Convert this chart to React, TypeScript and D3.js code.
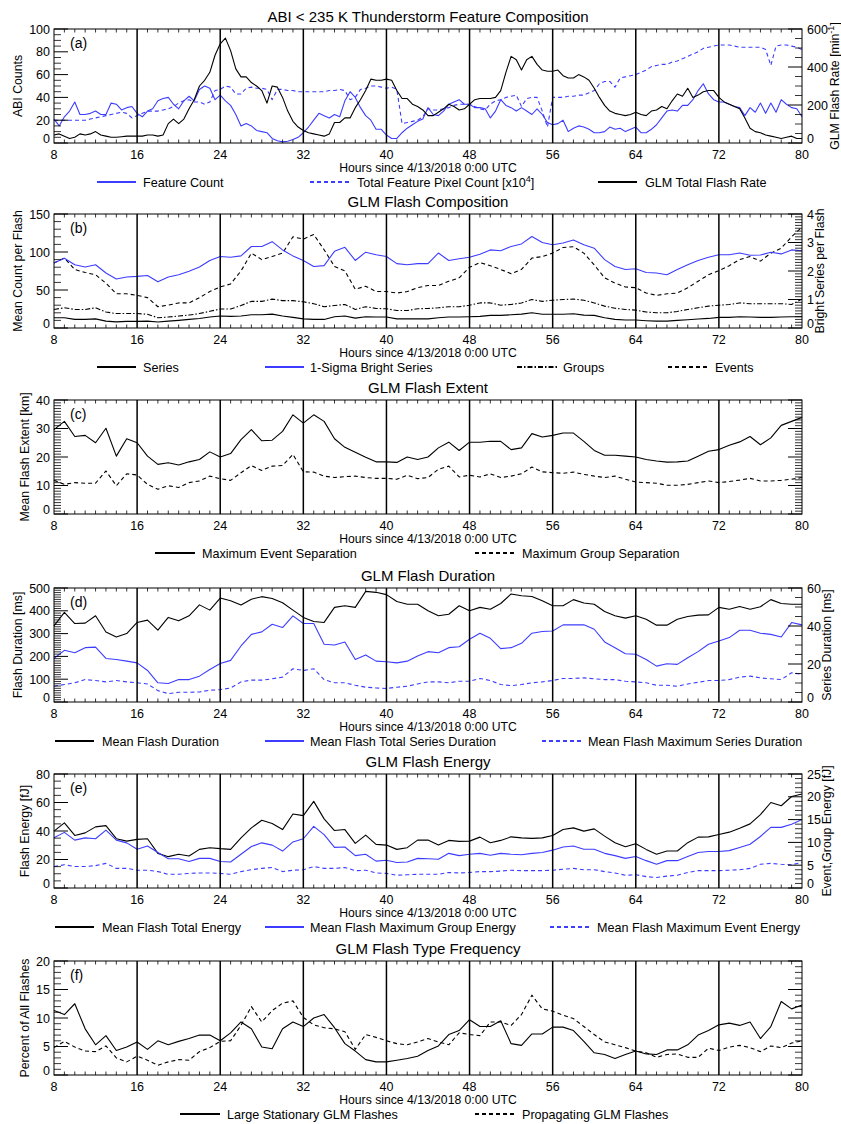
import React from "react";
import * as d3 from "d3";

// ---------------- x values ----------------
const hoursHalf = d3.range(8, 80.001, 0.5);
const hours = d3.range(8, 81, 1);
const xTicks = [8, 16, 24, 32, 40, 48, 56, 64, 72, 80];
const xGridLines = [16, 24, 32, 40, 48, 56, 64, 72];

// ---------------- panel (a) (half-hourly) ----------------
const featureCount = [
  21, 15, 23, 28, 36, 25, 25, 26, 28, 25, 25, 35, 34, 29, 31, 32, 26, 23, 28, 30, 37, 39, 40, 34, 30, 37, 41, 37, 47, 50,
  48, 38, 42, 37, 33, 25, 15, 17, 15, 11, 10, 9, 4, 2, 1, 1.5, 3, 5, 9, 14, 20, 26, 24, 22, 25, 23, 37, 45, 40, 31,
  24, 20, 12, 12, 7, 4, 4, 9, 13, 16, 19, 21, 31,
  25, 24, 28, 34, 36, 38, 34, 34, 31, 31, 30, 22, 28, 38, 33, 31, 28, 31, 28, 25, 30, 25, 18, 16, 17, 20, 10, 13, 15, 14,
  12, 9, 9, 10, 14, 12, 13, 10, 12, 14, 9, 9, 12, 16, 22, 28, 29, 28, 33, 33, 38, 46, 52, 43, 38, 36, 36, 34, 32, 31,
  24, 31, 27, 35, 26, 35, 27, 38, 34, 31, 30, 23,
];
const totalPixelCount = [
  20, 20, 20, 20, 20, 20, 20, 21, 22, 23, 24, 25, 26, 27, 26, 22, 24, 26, 28, 28, 28, 29, 30, 32, 35, 37, 38, 36, 36, 34,
  36, 46, 47, 50, 49, 43, 43, 48, 49, 48, 48, 47, 38, 47, 47, 46, 46, 45, 45, 45, 45, 45, 45, 46, 46, 47, 46, 38, 40, 47,
  48, 50, 50, 49, 48, 49, 47, 17, 18, 19, 20, 23, 30,
  29, 29, 30, 31, 33, 34, 34, 34, 32, 30, 29, 34, 37, 38, 40, 41, 42, 32, 39, 40, 40, 28, 14, 40, 40, 40, 41, 41, 42, 42,
  44, 46, 52, 54, 54, 49, 57, 58, 59, 60, 62, 64, 67, 68, 69, 69, 71, 72, 74, 76, 78, 80, 83, 84, 85, 86, 86, 86, 85, 84,
  84, 84, 84, 84, 82, 68, 85, 86, 86, 85, 84, 82,
];
const glmFlashRate = [
  42, 48, 36, 24, 30, 48, 42, 48, 60, 42, 36, 30, 30, 33, 36, 36, 36, 36, 42, 42, 36, 42, 102, 126, 102, 126, 180, 228, 300, 330,
  372, 462, 522, 552, 486, 390, 348, 348, 318, 300, 276, 210, 300, 294, 240, 168, 114, 84, 66, 54, 48, 42, 36, 48, 108, 108, 132, 132, 186, 228,
  276, 336, 330, 330, 336, 330, 276, 234, 234, 204, 192, 174, 144,
  144, 162, 180, 204, 192, 174, 180, 204, 228, 234, 234, 234, 240, 276, 372, 456, 438, 384, 438, 456, 414, 384, 378, 378, 384, 354, 342, 342, 360, 348,
  330, 288, 240, 198, 168, 156, 150, 144, 150, 162, 150, 144, 168, 174, 192, 180, 222, 258, 246, 288, 240, 252, 270, 276, 276, 240, 216, 204, 192, 180,
  132, 78, 60, 54, 42, 36, 30, 24, 30, 36, 24, 24,
];

// ---------------- panel (b) ----------------
const seriesCount = [
  13.5, 13.5, 11.3, 11.3, 12, 9, 8, 8.7, 8.7, 9, 7.8, 9, 10, 11.3, 12.6, 14.4, 15.7, 15.3, 15.7, 17.4, 17.4, 18.3, 15.7, 14, 12, 11.3, 11.3, 14.8, 15.7, 13,
  14.8, 14.4, 14.4, 12, 12, 12, 12,
  13.5, 14.4, 14.4, 14.8, 15.3, 16.6, 16.6, 17.4, 18.3, 20, 18, 18, 18, 18.8, 17, 16.6, 13.5, 11.3, 10.5, 10.5, 9.6, 9, 9, 10,
  10.9, 11.8, 12.6, 14, 14, 14.8, 14.4, 14, 14, 14.4, 14.8, 14.8,
];
const groupsCount = [
  24.4, 26.6, 24.4, 24.4, 26.6, 21, 19, 19, 19, 18, 13.5, 14.4, 15.7, 17, 19, 22, 25, 25, 29.6, 35, 35, 38, 36, 36, 34.5, 32, 28, 29.6, 31, 24.4,
  28, 25.7, 25.3, 23, 23, 25.3, 25.7,
  26.6, 28, 28, 30, 33, 33, 30, 31, 33, 37.5, 35, 36.6, 37.5, 38, 36.6, 33, 28.8, 26, 24.4, 23.5, 21, 20, 20, 21.8,
  24.4, 26.6, 28.8, 30, 31, 33, 32, 32, 32, 32, 31, 38,
];
const eventsCount = [
  85.5, 92, 77, 73, 70, 59, 45, 45, 43, 40, 28, 30, 33, 33, 40, 48, 54, 58, 75, 98.5, 90, 94, 98.5, 120, 117, 123, 103, 81, 75, 51,
  55, 48, 48, 46, 48, 53, 56,
  56, 61.5, 66, 80, 86, 82, 77, 71.5, 77, 92, 94, 98.5, 106, 107, 98.5, 83, 66, 59, 54, 53, 46, 43, 45, 46,
  53, 61.5, 70, 75.5, 82, 90, 94, 88, 98.5, 105, 120, 133,
];
const brightSeries = [
  2.28, 2.45, 2.22, 2.14, 2.22, 1.93, 1.72, 1.79, 1.81, 1.84, 1.62, 1.79, 1.87, 1.99, 2.14, 2.37, 2.51, 2.48, 2.53, 2.86, 2.86, 3.03, 2.74, 2.53, 2.37, 2.16, 2.19, 2.69, 2.83, 2.37,
  2.66, 2.57, 2.51, 2.26, 2.22, 2.26, 2.26,
  2.63, 2.37, 2.43, 2.48, 2.59, 2.74, 2.71, 2.86, 2.95, 3.21, 3.0, 2.92, 2.98, 3.09, 2.92, 2.8, 2.4, 2.16, 2.05, 2.08, 1.95, 1.93, 1.87, 2.05,
  2.22, 2.37, 2.48, 2.57, 2.57, 2.63, 2.55, 2.56, 2.66, 2.6, 2.74, 2.71,
];

// ---------------- panel (c) ----------------
const maxEventSep = [
  29.6, 32.5, 27.2, 27.6, 25, 30.1, 20.3, 26.4, 25, 20.3, 17.4, 18, 17.2, 18.3, 19.1, 21.8, 20, 21.2, 26.1, 29.6, 25.7, 25.9, 29, 34.8, 31.9, 34.8, 32.5, 26.4, 23.4, 21.7,
  19.9, 18.3, 18.3, 18.1, 20, 19.1, 20,
  23.2, 25.2, 22.3, 25.2, 25.2, 25.5, 25.5, 22.6, 23.2, 28.2, 27, 27.6, 28.4, 28.4, 25.5, 22.3, 20.6, 20.6, 20.3, 20, 19.1, 18.6, 18.2, 18.3,
  18.6, 20.3, 22, 22.6, 24.1, 25.3, 27.2, 24.3, 26.7, 31.1, 32.5, 33.9,
];
const maxGroupSep = [
  11.8, 10.4, 11, 10.8, 10.8, 15.1, 9.9, 14.1, 13.7, 10.4, 8.7, 9.9, 9.3, 11, 11.6, 13.3, 12.4, 11.8, 14.5, 17, 15.3, 16.8, 17, 20.9, 14.8, 14.7, 13.3, 12.8, 13.1, 13.3,
  12.8, 12.5, 12.5, 12.2, 13.6, 12.4, 12.8,
  15.7, 16.8, 13, 13.6, 13, 14.1, 12.8, 13.3, 14.1, 16.5, 14.8, 14.5, 14.3, 14.7, 13.9, 13.3, 12.8, 13.3, 12.2, 11.2, 11, 10.8, 10.1, 10.1,
  10.4, 11, 11.6, 11, 11.4, 11.9, 12.5, 11.6, 11.6, 11.8, 12.2, 12.8,
];

// ---------------- panel (d) ----------------
const meanFlashDuration = [
  334, 393, 344, 346, 378, 307, 285, 300, 349, 359, 315, 371, 356, 378, 426, 403, 456, 444, 425, 451, 462, 454, 435, 403, 371, 353, 349, 415, 422, 415,
  485, 481, 471, 441, 429, 429, 400,
  378, 385, 422, 400, 415, 407, 432, 474, 466, 463, 444, 422, 422, 449, 434, 429, 397, 378, 368, 378, 363, 337, 337, 363,
  375, 381, 382, 415, 407, 419, 407, 418, 449, 432, 429, 429,
];
const totalSeriesDuration = [
  22.9, 27.2, 25.9, 28.6, 28.9, 22.9, 22.4, 21.5, 20.6, 16.6, 10.1, 9.7, 11.8, 11.8, 13.6, 17.1, 20.3, 21.9, 29.5, 35.6, 36.9, 40.9, 39.2, 45.3, 41.3, 41.3, 30.4, 30, 31.6, 22.4,
  24.7, 21.5, 21.2, 20.6, 21.5, 24.2, 26.5,
  25.9, 28.6, 29.1, 33, 36.2, 33.5, 28.1, 28.6, 30.9, 36.2, 37.1, 37.4, 40.6, 40.6, 40.6, 38.3, 31.6, 28.6, 25.4, 25.1, 22.4, 18.9, 20.1, 19.8,
  23.3, 26.5, 30.4, 32.1, 33.9, 37.8, 37.8, 36.2, 35.6, 34.2, 41.8, 40.6,
];
const maxSeriesDuration = [
  8.3, 9.2, 10.1, 11.8, 11.3, 10.6, 11.3, 10.6, 10.1, 9.5, 6, 4.4, 5.1, 5.1, 5.3, 6.2, 6.5, 7.4, 10.6, 11.5, 11.5, 12.2, 13.1, 17.5, 16.6, 17.5, 11.8, 10.1, 10.1, 8.8,
  7.8, 7.4, 7.1, 7.8, 8.3, 9.5, 10.6,
  10.6, 10.1, 10.9, 10.9, 12.4, 11.3, 9.2, 8.6, 9.2, 10.1, 10.6, 11.3, 12.4, 12.4, 12.7, 12.2, 11.8, 11.8, 10.9, 10.6, 10.1, 8.8, 8.8, 8.3,
  9.5, 10.4, 11.3, 11.3, 11.8, 13.1, 13.6, 12.7, 12.2, 11.8, 15.4, 14.5,
];

// ---------------- panel (e) ----------------
const totalEnergy = [
  39.9, 45.7, 36.9, 38.7, 42.9, 43.8, 34.6, 32.9, 34.1, 34.6, 24.3, 22, 23.7, 22.5, 27.1, 28.3, 27.6, 27.1, 35.2, 42.2, 47.5, 45.2, 41, 51.9, 50.8, 60.8, 48.5, 40.3, 41, 31.3,
  37.1, 30.6, 30.1, 27.1, 28.3, 33.6, 33.6,
  30.1, 33.4, 32.7, 32.9, 35.7, 31.8, 33.4, 35.9, 35.2, 34.8, 35.2, 36.9, 41, 42.2, 39.9, 41.5, 36.4, 31.8, 29, 31.1, 27.1, 23.7, 26, 26,
  31.8, 35.7, 35.9, 37.6, 39.2, 42, 45, 51.5, 60, 57.7, 64.2, 66,
];
const maxGroupEnergy = [
  11.0, 12.2, 10.5, 11.0, 10.8, 12.7, 10.5, 9.9, 8.5, 9.2, 7.8, 6.4, 6.4, 5.8, 6.5, 6.5, 5.8, 5.7, 7.4, 9.1, 9.9, 9.4, 8.1, 10.1, 10.8, 13.5, 11.7, 8.9, 9.0, 7.1,
  7.4, 5.9, 6.1, 5.6, 5.7, 6.5, 6.4,
  6.3, 7.6, 7.1, 7.4, 7.6, 7.2, 7.6, 7.4, 7.3, 7.6, 7.8, 8.3, 9.0, 9.2, 8.5, 8.5, 7.6, 7.1, 6.5, 6.9, 6.0, 5.2, 6.0, 6.0,
  6.9, 7.8, 8.0, 8.0, 8.2, 8.9, 9.6, 11.3, 13.3, 13.3, 14.0, 15.0,
];
const maxEventEnergy = [
  4.7, 5.1, 4.7, 4.7, 4.9, 5.4, 4.3, 4.3, 3.9, 3.9, 3.6, 3.0, 3.0, 3.2, 3.3, 3.3, 3.2, 3.0, 3.6, 4.0, 4.3, 4.5, 3.6, 3.9, 4.0, 4.7, 4.3, 4.3, 4.5, 3.8,
  3.9, 3.3, 3.2, 2.8, 2.9, 3.0, 3.0,
  3.0, 3.4, 3.3, 3.4, 3.6, 3.6, 3.7, 3.9, 3.8, 3.8, 3.8, 3.9, 4.1, 4.3, 4.0, 4.0, 3.6, 3.3, 2.8, 2.9, 2.5, 2.3, 2.6, 2.8,
  3.4, 3.8, 3.8, 3.8, 3.9, 4.0, 4.3, 5.2, 5.4, 5.2, 5.1, 5.6,
];

// ---------------- panel (f) ----------------
const largeStationary = [
  11.3, 10.6, 12.5, 8.1, 5.3, 6.9, 4.3, 4.9, 5.8, 4.5, 6.0, 5.3, 5.9, 6.4, 7.0, 7.0, 6.0, 7.4, 9.3, 8.1, 4.9, 4.6, 8.1, 9.3, 8.5, 10.0, 10.6, 8.3, 5.5, 4.2,
  2.7, 2.3, 2.3, 2.6, 2.9, 3.3, 4.3,
  5.1, 7.1, 7.8, 9.7, 8.5, 8.5, 9.5, 5.5, 5.2, 7.2, 7.2, 8.4, 8.4, 7.8, 5.9, 3.9, 3.6, 2.9, 3.6, 4.2, 3.7, 3.6, 4.4, 4.4,
  5.3, 7.0, 7.8, 8.8, 9.1, 8.7, 9.3, 6.4, 8.5, 12.9, 11.6, 12.3,
];
const propagating = [
  4.8, 5.9, 4.9, 4.2, 4.1, 5.1, 3.0, 2.3, 3.3, 2.6, 1.7, 2.3, 2.7, 2.6, 4.1, 4.8, 5.9, 6.0, 8.7, 12.0, 9.3, 11.3, 12.6, 13.0, 10.1, 8.8, 8.3, 8.1, 7.6, 4.5,
  7.1, 6.6, 6.0, 5.5, 5.3, 5.8, 6.4,
  5.8, 5.3, 7.4, 7.1, 6.9, 9.3, 9.3, 8.7, 10.6, 14.0, 11.6, 11.2, 10.5, 9.9, 8.5, 7.1, 5.8, 5.3, 4.8, 4.2, 3.9, 3.1, 3.6, 3.7,
  3.1, 3.1, 4.7, 4.3, 4.9, 5.2, 4.8, 4.1, 5.1, 4.8, 5.6, 6.0,
];

// ---------------- styling / layout ----------------
const W = 841;
const H = 1124;
const X0 = 54;
const X1 = 802;
const PH = 114;
const TOPS = [29, 214, 400, 588, 774, 961];
const BLUE = "#3d3dff";
const FONT = "'Liberation Sans', Arial, Helvetica, sans-serif";
const DASH = "4 3";
const DASHDOT = "5 2 1.5 2";

type Series = { xs: number[]; ys: number[]; axis: "L" | "R"; color: string; dash?: string };
type Legend = { x1: number; x2: number; tx: number; label: React.ReactNode; color: string; dash?: string };
type Axis = { domain: [number, number]; major: number; minor: number; labels: boolean };
type PanelCfg = {
  tag: string;
  title: string;
  leftLabel: string;
  leftLabelX: number;
  rightLabel?: React.ReactNode;
  rightLabelX?: number;
  left: Axis;
  right: Axis;
  series: Series[];
  legend: Legend[];
};

const panels: PanelCfg[] = [
  {
    tag: "(a)",
    title: "ABI < 235 K Thunderstorm Feature Composition",
    leftLabel: "ABI Counts",
    leftLabelX: 22,
    rightLabel: (
      <>
        GLM Flash Rate [min<tspan dy={-5} fontSize={9}>-1</tspan>
        <tspan dy={5}>]</tspan>
      </>
    ),
    rightLabelX: 839,
    left: { domain: [0, 100], major: 20, minor: 5, labels: true },
    right: { domain: [0, 600], major: 200, minor: 50, labels: true },
    series: [
      { xs: hoursHalf, ys: totalPixelCount, axis: "L", color: BLUE, dash: DASH },
      { xs: hoursHalf, ys: featureCount, axis: "L", color: BLUE },
      { xs: hoursHalf, ys: glmFlashRate, axis: "R", color: "#000" },
    ],
    legend: [
      { x1: 97, x2: 136, tx: 143, label: "Feature Count", color: BLUE },
      {
        x1: 310,
        x2: 350,
        tx: 357,
        label: (
          <>
            Total Feature Pixel Count [x10<tspan dy={-5} fontSize={9}>4</tspan>
            <tspan dy={5}>]</tspan>
          </>
        ),
        color: BLUE,
        dash: DASH,
      },
      { x1: 598, x2: 637, tx: 645, label: "GLM Total Flash Rate", color: "#000" },
    ],
  },
  {
    tag: "(b)",
    title: "GLM Flash Composition",
    leftLabel: "Mean Count per Flash",
    leftLabelX: 22,
    rightLabel: "Bright Series per Flash",
    rightLabelX: 824,
    left: { domain: [0, 150], major: 50, minor: 10, labels: true },
    right: { domain: [0, 4], major: 1, minor: 0.1, labels: true },
    series: [
      { xs: hours, ys: seriesCount, axis: "L", color: "#000" },
      { xs: hours, ys: groupsCount, axis: "L", color: "#000", dash: DASHDOT },
      { xs: hours, ys: eventsCount, axis: "L", color: "#000", dash: DASH },
      { xs: hours, ys: brightSeries, axis: "R", color: BLUE },
    ],
    legend: [
      { x1: 97, x2: 136, tx: 143, label: "Series", color: "#000" },
      { x1: 265, x2: 304, tx: 310, label: "1-Sigma Bright Series", color: BLUE },
      { x1: 517, x2: 557, tx: 563, label: "Groups", color: "#000", dash: DASHDOT },
      { x1: 668, x2: 708, tx: 715, label: "Events", color: "#000", dash: DASH },
    ],
  },
  {
    tag: "(c)",
    title: "GLM Flash Extent",
    leftLabel: "Mean Flash Extent [km]",
    leftLabelX: 29,
    left: { domain: [0, 40], major: 10, minor: 1, labels: true },
    right: { domain: [0, 40], major: 10, minor: 1, labels: false },
    series: [
      { xs: hours, ys: maxEventSep, axis: "L", color: "#000" },
      { xs: hours, ys: maxGroupSep, axis: "L", color: "#000", dash: DASH },
    ],
    legend: [
      { x1: 155, x2: 195, tx: 202, label: "Maximum Event Separation", color: "#000" },
      { x1: 475, x2: 516, tx: 522, label: "Maximum Group Separation", color: "#000", dash: DASH },
    ],
  },
  {
    tag: "(d)",
    title: "GLM Flash Duration",
    leftLabel: "Flash Duration [ms]",
    leftLabelX: 22,
    rightLabel: "Series Duration [ms]",
    rightLabelX: 831,
    left: { domain: [0, 500], major: 100, minor: 10, labels: true },
    right: { domain: [0, 60], major: 20, minor: 5, labels: true },
    series: [
      { xs: hours, ys: meanFlashDuration, axis: "L", color: "#000" },
      { xs: hours, ys: totalSeriesDuration, axis: "R", color: BLUE },
      { xs: hours, ys: maxSeriesDuration, axis: "R", color: BLUE, dash: DASH },
    ],
    legend: [
      { x1: 55, x2: 94, tx: 102, label: "Mean Flash Duration", color: "#000" },
      { x1: 265, x2: 304, tx: 310, label: "Mean Flash Total Series Duration", color: BLUE },
      { x1: 542, x2: 582, tx: 588, label: "Mean Flash Maximum Series Duration", color: BLUE, dash: DASH },
    ],
  },
  {
    tag: "(e)",
    title: "GLM Flash Energy",
    leftLabel: "Flash Energy [fJ]",
    leftLabelX: 29,
    rightLabel: "Event,Group Energy [fJ]",
    rightLabelX: 831,
    left: { domain: [0, 80], major: 20, minor: 5, labels: true },
    right: { domain: [0, 25], major: 5, minor: 1, labels: true },
    series: [
      { xs: hours, ys: totalEnergy, axis: "L", color: "#000" },
      { xs: hours, ys: maxGroupEnergy, axis: "R", color: BLUE },
      { xs: hours, ys: maxEventEnergy, axis: "R", color: BLUE, dash: DASH },
    ],
    legend: [
      { x1: 55, x2: 94, tx: 102, label: "Mean Flash Total Energy", color: "#000" },
      { x1: 265, x2: 304, tx: 310, label: "Mean Flash Maximum Group Energy", color: BLUE },
      { x1: 550, x2: 590, tx: 597, label: "Mean Flash Maximum Event Energy", color: BLUE, dash: DASH },
    ],
  },
  {
    tag: "(f)",
    title: "GLM Flash Type Frequency",
    leftLabel: "Percent of All Flashes",
    leftLabelX: 29,
    left: { domain: [0, 20], major: 5, minor: 1, labels: true },
    right: { domain: [0, 20], major: 5, minor: 1, labels: false },
    series: [
      { xs: hours, ys: largeStationary, axis: "L", color: "#000" },
      { xs: hours, ys: propagating, axis: "L", color: "#000", dash: DASH },
    ],
    legend: [
      { x1: 180, x2: 220, tx: 227, label: "Large Stationary GLM Flashes", color: "#000" },
      { x1: 475, x2: 516, tx: 522, label: "Propagating GLM Flashes", color: "#000", dash: DASH },
    ],
  },
];

function ticksOf(ax: Axis) {
  const eps = 1e-9;
  const majors = d3.range(ax.domain[0], ax.domain[1] + eps, ax.major);
  const minors = d3
    .range(ax.domain[0], ax.domain[1] + eps, ax.minor)
    .filter((v) => !majors.some((m) => Math.abs(m - v) < ax.minor / 10));
  return { majors, minors };
}

function fmt(v: number) {
  return Number.isInteger(v) ? String(v) : String(+v.toFixed(2));
}

function Panel({ cfg, top }: { cfg: PanelCfg; top: number }) {
  const bottom = top + PH;
  const x = d3.scaleLinear().domain([8, 80]).range([X0, X1]);
  const yL = d3.scaleLinear().domain(cfg.left.domain).range([bottom, top]);
  const yR = d3.scaleLinear().domain(cfg.right.domain).range([bottom, top]);
  const MAJ = 14;
  const MIN = 7;
  const lt = ticksOf(cfg.left);
  const rt = ticksOf(cfg.right);
  const xMinor = d3.range(8, 81, 1).filter((h) => h % 8 !== 0);

  return (
    <g>
      <text x={(X0 + X1) / 2} y={top - 7} textAnchor="middle" fontSize={15}>
        {cfg.title}
      </text>
      {/* data lines */}
      {cfg.series.map((s, i) => {
        const ys = s.axis === "L" ? yL : yR;
        const line = d3
          .line<number>()
          .x((_, k) => x(s.xs[k]))
          .y((v) => ys(v));
        return (
          <path
            key={i}
            d={line(s.ys) || ""}
            fill="none"
            stroke={s.color}
            strokeWidth={1.1}
            strokeDasharray={s.dash}
            strokeLinejoin="round"
          />
        );
      })}
      {/* vertical lines */}
      {xGridLines.map((h) => (
        <line key={h} x1={x(h)} x2={x(h)} y1={top} y2={bottom} stroke="#000" strokeWidth={1.5} />
      ))}
      {/* frame */}
      <rect x={X0} y={top} width={X1 - X0} height={PH} fill="none" stroke="#000" strokeWidth={1} />
      {/* x minor ticks */}
      {xMinor.map((h) => (
        <g key={h}>
          <line x1={x(h)} x2={x(h)} y1={bottom} y2={bottom - 3.5} stroke="#000" strokeWidth={0.8} />
          <line x1={x(h)} x2={x(h)} y1={top} y2={top + 3.5} stroke="#000" strokeWidth={0.8} />
        </g>
      ))}
      {xTicks.map((h) => (
        <text key={h} x={x(h)} y={bottom + 15.5} textAnchor="middle" fontSize={12.5}>
          {h}
        </text>
      ))}
      <text x={(X0 + X1) / 2} y={bottom + 29} textAnchor="middle" fontSize={12.2}>
        Hours since 4/13/2018 0:00 UTC
      </text>
      {/* left axis ticks */}
      {lt.majors.map((v) => (
        <line key={"lM" + v} x1={X0} x2={X0 + MAJ} y1={yL(v)} y2={yL(v)} stroke="#000" strokeWidth={1} />
      ))}
      {lt.minors.map((v) => (
        <line key={"lm" + v} x1={X0} x2={X0 + MIN} y1={yL(v)} y2={yL(v)} stroke="#000" strokeWidth={0.8} />
      ))}
      {lt.majors.map((v, i) => (
        <text
          key={"lt" + v}
          x={X0 - 4}
          y={yL(v) + (i === 0 ? 0 : 4.5)}
          textAnchor="end"
          fontSize={12.5}
        >
          {fmt(v)}
        </text>
      ))}
      {/* right axis ticks */}
      {rt.majors.map((v) => (
        <line key={"rM" + v} x1={X1} x2={X1 - MAJ} y1={yR(v)} y2={yR(v)} stroke="#000" strokeWidth={1} />
      ))}
      {rt.minors.map((v) => (
        <line key={"rm" + v} x1={X1} x2={X1 - MIN} y1={yR(v)} y2={yR(v)} stroke="#000" strokeWidth={0.8} />
      ))}
      {cfg.right.labels &&
        rt.majors.map((v, i) => (
          <text key={"rt" + v} x={X1 + 5} y={yR(v) + (i === 0 ? 0 : 4.5)} textAnchor="start" fontSize={12.5}>
            {fmt(v)}
          </text>
        ))}
      {/* axis titles */}
      <text
        transform={`translate(${cfg.leftLabelX},${(top + bottom) / 2}) rotate(-90)`}
        textAnchor="middle"
        fontSize={12.3}
      >
        {cfg.leftLabel}
      </text>
      {cfg.rightLabel && (
        <text
          transform={`translate(${cfg.rightLabelX},${(top + bottom) / 2}) rotate(-90)`}
          textAnchor="middle"
          fontSize={12.3}
        >
          {cfg.rightLabel}
        </text>
      )}
      <text x={70} y={top + 18.5} fontSize={14}>
        {cfg.tag}
      </text>
      {/* legend */}
      {cfg.legend.map((l, i) => (
        <g key={i}>
          <line
            x1={l.x1}
            x2={l.x2}
            y1={bottom + 39}
            y2={bottom + 39}
            stroke={l.color}
            strokeWidth={2}
            strokeDasharray={l.dash}
          />
          <text x={l.tx} y={bottom + 43.5} fontSize={12.6}>
            {l.label}
          </text>
        </g>
      ))}
    </g>
  );
}

export default function App() {
  return (
    <svg
      width={W}
      height={H}
      viewBox={`0 0 ${W} ${H}`}
      style={{ position: "absolute", left: 0, top: 0, background: "#fff" }}
      fontFamily={FONT}
    >
      <rect x={0} y={0} width={W} height={H} fill="#fff" />
      {panels.map((p, i) => (
        <Panel key={i} cfg={p} top={TOPS[i]} />
      ))}
    </svg>
  );
}
